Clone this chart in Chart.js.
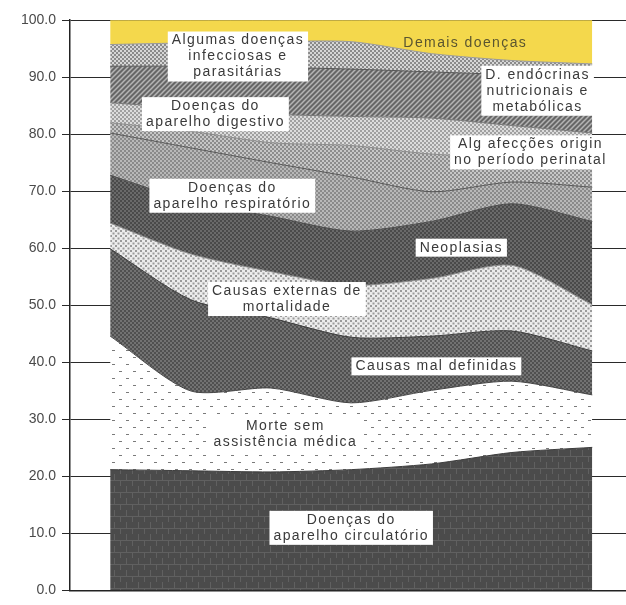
<!DOCTYPE html>
<html>
<head>
<meta charset="utf-8">
<script src="https://cdn.jsdelivr.net/npm/chart.js@4/dist/chart.umd.min.js"></script>
<style>
  html, body { margin: 0; padding: 0; background: #fff; }
  #wrap { width: 626px; height: 605px; }
</style>
</head>
<body>
<div id="wrap"><canvas id="mortChart" width="626" height="605"></canvas></div>
<script>
// seven periods along the x axis (index positions)
const periods = [0, 1, 2, 3, 4, 5, 6];
const yTicks = [0, 10, 20, 30, 40, 50, 60, 70, 80, 90, 100];

// share of deaths (%) by cause, bottom layer first
const circulatorio = [21.2, 21.0, 20.8, 21.2, 22.2, 24.2, 25.1];
const semAssistencia = [23.4, 14.0, 14.7, 11.7, 12.9, 12.5, 9.2];
const malDefinidas = [15.3, 16.0, 12.3, 11.5, 9.5, 8.8, 7.7];
const externas = [4.5, 8.0, 8.1, 9.1, 10.1, 11.5, 8.1];
const neoplasias = [8.4, 9.2, 9.7, 9.5, 10.0, 10.8, 14.6];
const respiratorio = [7.4, 9.4, 9.4, 9.5, 5.2, 3.8, 6.0];
const perinatal = [1.8, 2.9, 3.5, 5.5, 6.6, 4.4, 5.8];
const digestivo = [3.5, 4.0, 5.0, 5.1, 6.3, 5.5, 3.7];
const endocrinas = [6.4, 7.4, 8.2, 8.3, 8.1, 8.9, 9.6];
const infecciosas = [3.8, 4.1, 4.5, 4.8, 3.2, 2.5, 2.5];
const demais = [4.3, 4.0, 3.8, 3.8, 5.9, 7.1, 7.7];

// small tiled textures for the area fills
function pattern(bg, fg, kind, size) {
  const c = document.createElement('canvas');
  c.width = c.height = size;
  const g = c.getContext('2d');
  g.fillStyle = bg;
  g.fillRect(0, 0, size, size);
  g.fillStyle = fg;
  g.strokeStyle = fg;
  if (kind === 'dots') {
    g.fillRect(0, 0, 2, 2);
    g.fillRect(size / 2, size / 2, 2, 2);
  } else if (kind === 'grid') {
    g.fillRect(0, 0, size, 1);
    g.fillRect(0, 0, 1, size / 2);
    g.fillRect(size / 2, size / 2, 1, size / 2);
  } else if (kind === 'dash') {
    g.fillRect(0, 0, 3, 1);
    g.fillRect(size / 2, size / 2, 3, 1);
  } else if (kind === 'hatch') {
    g.lineWidth = 1.5;
    g.beginPath();
    g.moveTo(0, size); g.lineTo(size, 0);
    g.moveTo(-size, size); g.lineTo(size, -size);
    g.moveTo(0, 2 * size); g.lineTo(2 * size, 0);
    g.stroke();
  }
  return g.createPattern(c, 'repeat');
}

const layers = [
  { label: 'Doenças do aparelho circulatório', data: circulatorio, bg: pattern('#4b4b4b', '#606060', 'grid', 12), line: '#3c3c3c' },
  { label: 'Morte sem assistência médica', data: semAssistencia, bg: pattern('#ffffff', '#7a7a7a', 'dash', 14), line: '#444444' },
  { label: 'Causas mal definidas', data: malDefinidas, bg: pattern('#505050', '#727272', 'dots', 4), line: '#3c3c3c' },
  { label: 'Causas externas de mortalidade', data: externas, bg: pattern('#ececec', '#9a9a9a', 'dots', 5), line: '#8a8a8a' },
  { label: 'Neoplasias', data: neoplasias, bg: pattern('#6a6a6a', '#4a4a4a', 'dots', 4), line: '#4a4a4a' },
  { label: 'Doenças do aparelho respiratório', data: respiratorio, bg: pattern('#8a8a8a', '#b8b8b8', 'dots', 4), line: '#555555' },
  { label: 'Alg afecções origin no período perinatal', data: perinatal, bg: pattern('#c6c6c6', '#8c8c8c', 'dots', 4), line: '#8a8a8a' },
  { label: 'Doenças do aparelho digestivo', data: digestivo, bg: pattern('#a0a0a0', '#dcdcdc', 'dots', 4), line: '#777777' },
  { label: 'D. endócrinas nutricionais e metabólicas', data: endocrinas, bg: pattern('#666666', '#b4b4b4', 'hatch', 5), line: '#555555' },
  { label: 'Algumas doenças infecciosas e parasitárias', data: infecciosas, bg: pattern('#d6d6d6', '#8a8a8a', 'dots', 4), line: '#999999' },
  { label: 'Demais doenças', data: demais, bg: '#f4d84c', line: '#8a7d3a' }
];

// text boxes placed in data units (x = period index, y = %)
const areaLabels = [
  { lines: ['Algumas doenças', 'infecciosas e', 'parasitárias'], x: 1.59, y: 93.6, box: true },
  { lines: ['Demais doenças'], x: 4.42, y: 96.0, box: false, color: '#5a5530' },
  { lines: ['D. endócrinas', 'nutricionais e', 'metabólicas'], x: 5.32, y: 87.6, box: true },
  { lines: ['Doenças do', 'aparelho digestivo'], x: 1.31, y: 83.5, box: true },
  { lines: ['Alg afecções origin', 'no período perinatal'], x: 5.23, y: 76.8, box: true },
  { lines: ['Doenças do', 'aparelho respiratório'], x: 1.52, y: 69.2, box: true },
  { lines: ['Neoplasias'], x: 4.37, y: 60.1, box: true },
  { lines: ['Causas externas de', 'mortalidade'], x: 2.20, y: 51.1, box: true },
  { lines: ['Causas mal definidas'], x: 4.06, y: 39.3, box: true },
  { lines: ['Morte sem', 'assistência médica'], x: 2.18, y: 27.5, box: true },
  { lines: ['Doenças do', 'aparelho circulatório'], x: 3.0, y: 11.0, box: true }
];

const labelPlugin = {
  id: 'areaLabels',
  afterDatasetsDraw(chart) {
    const { ctx, scales } = chart;
    ctx.save();
    ctx.font = '14px "Liberation Sans"';
    ctx.letterSpacing = '1.4px';
    ctx.textAlign = 'center';
    ctx.textBaseline = 'middle';
    const lh = 16;
    areaLabels.forEach(l => {
      const cx = scales.x.getPixelForValue(l.x);
      const cy = scales.y.getPixelForValue(l.y);
      const w = Math.max(...l.lines.map(t => ctx.measureText(t).width)) + 8;
      const h = l.lines.length * lh + 2;
      if (l.box) {
        ctx.fillStyle = '#ffffff';
        ctx.fillRect(cx - w / 2, cy - h / 2, w, h);
      }
      ctx.fillStyle = l.color || '#3a3a3a';
      l.lines.forEach((t, i) => {
        ctx.fillText(t, cx, cy - h / 2 + 1 + lh / 2 + i * lh);
      });
    });
    ctx.restore();
  }
};

const datasets = layers.map((layer, i) => ({
  label: layer.label,
  data: layer.data.map((v, j) => ({ x: periods[j], y: v })),
  backgroundColor: layer.bg,
  borderColor: layer.line,
  borderWidth: 1,
  pointRadius: 0,
  tension: 0.25,
  fill: i === 0 ? 'origin' : '-1'
}));

new Chart(document.getElementById('mortChart'), {
  type: 'line',
  data: { datasets: datasets },
  options: {
    responsive: false,
    animation: false,
    layout: { padding: { top: 20, right: 0, bottom: 0, left: 0 } },
    plugins: { legend: { display: false }, tooltip: { enabled: false } },
    scales: {
      x: {
        type: 'linear',
        min: -0.5,
        max: 6.42,
        ticks: { display: false },
        grid: { display: false },
        border: { display: true, color: '#222', width: 1.5 },
        afterFit: s => { s.height = 4; }
      },
      y: {
        stacked: true,
        min: 0,
        max: 100,
        afterBuildTicks: s => { s.ticks = yTicks.map(v => ({ value: v })); },
        ticks: {
          callback: v => v.toFixed(1),
          color: '#4a4a4a',
          padding: 6,
          font: { family: 'Liberation Sans', size: 14 }
        },
        grid: { color: '#2a2a2a', lineWidth: 1, tickLength: 8 },
        border: { color: '#222', width: 1.5 },
        afterFit: s => { s.width = 70; }
      }
    }
  },
  plugins: [labelPlugin]
});
</script>
</body>
</html>
